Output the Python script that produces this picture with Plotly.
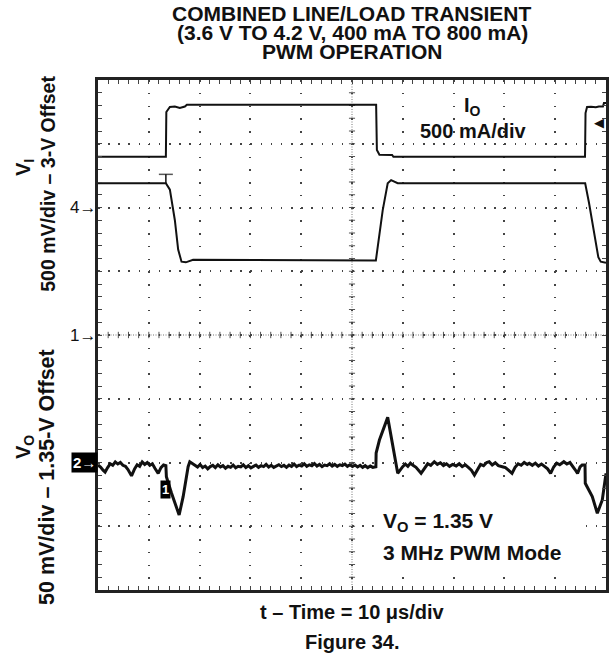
import plotly.graph_objects as go

# time base: 10 us/div, 10 divisions
# V_I trace (V), 500 mV/div, 3 V offset
t_vi = [0, 13.36, 14.15, 15.13, 15.78, 16.44, 17.29, 18.72, 54.7, 55.4, 56.05, 57.03,
        57.7, 59.0, 95.9, 96.66, 97.64, 98.49, 98.96, 100]
v_in = [4.19, 4.19, 4.14, 3.90, 3.67, 3.575, 3.57, 3.59, 3.585, 3.77, 3.98, 4.19,
        4.215, 4.19, 4.19, 4.035, 3.82, 3.61, 3.575, 3.567]

# I_O trace (mA), 500 mA/div
t_io = [0, 13.36, 13.45, 14.15, 15.13, 16.1, 17.1, 17.5, 54.75, 54.9, 55.4, 57.9,
        58.15, 95.87, 95.97, 96.27, 97.05, 98.0, 98.6, 99.4, 99.6, 100]
i_out = [398, 398, 749, 788, 792, 780, 792, 806, 806, 451, 414, 412,
         398, 398, 741, 788, 790, 786, 792, 792, 820, 820]

# V_O trace (V), 50 mV/div, 1.35 V offset
t_vo = [0.0, 0.5, 1.0, 1.4, 1.9, 2.4, 2.9, 3.4, 3.9, 4.4, 4.9, 5.4, 5.9, 6.6, 7.2, 7.7,
        8.2, 8.7, 9.2, 9.7, 10.2, 10.7, 11.2, 11.85, 12.4, 12.9, 13.36,
        13.46, 14.48, 15.97, 16.76, 17.74, 18.07, 19.06,
        19.6, 20.1, 20.6, 21.1, 21.6, 22.1, 22.6, 23.1, 23.6, 24.1, 24.6, 25.1, 25.6,
        26.1, 26.6, 27.1, 27.6, 28.1, 28.6, 29.1, 29.6, 30.1, 30.6, 31.1, 31.6, 32.1,
        32.6, 33.1, 33.6, 34.1, 34.6, 35.1, 35.6, 36.1, 36.6, 37.1, 37.6, 38.1, 38.6,
        39.1, 39.6, 40.1, 40.6, 41.1, 41.6, 42.1, 42.6, 43.1, 43.6, 44.1, 44.6, 45.1,
        45.6, 46.1, 46.6, 47.1, 47.6, 48.1, 48.6, 49.1, 49.6, 50.1, 50.6, 51.1, 51.6,
        52.1, 52.6, 53.1, 53.6, 54.1,
        54.70, 54.75, 55.4, 57.03, 58.0, 59.0, 59.98,
        60.5, 61.0, 61.5, 62.0, 62.6, 63.6, 64.3, 64.9, 65.5, 66.2, 66.8, 67.4, 68.0,
        68.6, 69.2, 69.8, 70.5, 71.1, 71.7, 72.3, 72.9, 73.5, 74.1, 74.7, 75.3, 75.9,
        76.5, 77.0, 77.6, 78.2, 78.8, 79.6, 80.2, 80.8, 81.5, 82.1, 82.7, 83.3, 83.9,
        84.5, 84.9, 85.5, 86.1, 86.7, 87.3, 87.9, 88.5, 89.1, 89.7, 90.3, 90.9, 91.7,
        92.3, 92.9, 93.5, 93.9, 94.4, 94.9, 95.3, 95.87,
        95.92, 97.3, 98.29, 99.27, 100]
v_out = [1.3480, 1.3465, 1.3440, 1.3425, 1.3460, 1.3490, 1.3478, 1.3505, 1.3488, 1.3500,
         1.3478, 1.3470, 1.3445, 1.3395, 1.3450, 1.3482, 1.3470, 1.3505, 1.3485, 1.3500,
         1.3478, 1.3490, 1.3455, 1.3415, 1.3460, 1.3480, 1.3475,
         1.3389, 1.3259, 1.3088, 1.3232, 1.3467, 1.3506, 1.3480,
         1.3465, 1.3485, 1.3460, 1.3472, 1.3450, 1.3468, 1.3478, 1.3460, 1.3482, 1.3465,
         1.3475, 1.3455, 1.3470, 1.3462, 1.3480, 1.3458, 1.3470, 1.3465, 1.3482, 1.3460,
         1.3475, 1.3458, 1.3470, 1.3480, 1.3462, 1.3475, 1.3468, 1.3485, 1.3465, 1.3478,
         1.3462, 1.3472, 1.3483, 1.3468, 1.3478, 1.3462, 1.3480, 1.3470, 1.3488, 1.3468,
         1.3480, 1.3472, 1.3490, 1.3470, 1.3482, 1.3475, 1.3492, 1.3472, 1.3485, 1.3468,
         1.3480, 1.3475, 1.3490, 1.3472, 1.3485, 1.3470, 1.3482, 1.3476, 1.3488, 1.3470,
         1.3482, 1.3468, 1.3480, 1.3465, 1.3478, 1.3462, 1.3475, 1.3460, 1.3472, 1.3462,
         1.3467, 1.3574, 1.3676, 1.3854, 1.3624, 1.3415, 1.3467,
         1.3488, 1.3470, 1.3495, 1.3478, 1.3462, 1.3415, 1.3460, 1.3490, 1.3478, 1.3506,
         1.3485, 1.3498, 1.3475, 1.3490, 1.3470, 1.3485, 1.3473, 1.3490, 1.3468, 1.3482,
         1.3462, 1.3440, 1.3402, 1.3450, 1.3485, 1.3475, 1.3500, 1.3506, 1.3480, 1.3498,
         1.3475, 1.3467, 1.3460, 1.3440, 1.3415, 1.3462, 1.3490, 1.3478, 1.3500, 1.3485,
         1.3494, 1.3478, 1.3495, 1.3472, 1.3488, 1.3470, 1.3450, 1.3415, 1.3465, 1.3495,
         1.3482, 1.3506, 1.3488, 1.3500, 1.3470, 1.3445, 1.3415, 1.3465, 1.3480, 1.3480,
         1.3337, 1.3232, 1.3102, 1.3206, 1.3415]

# trigger marker on V_I
trig_t = [13.36, 13.36]
trig_v = [4.19, 4.26]

FONT = "Liberation Sans, Arial, sans-serif"
INK = "#111111"
DOT_X = "1.5px,11.25px"   # dots every 1/5 div along vertical grid lines
DOT_Y = "1.5px,8.66px"    # dots every 1/5 div along horizontal grid lines

fig = go.Figure()
fig.add_trace(go.Scatter(x=t_io, y=i_out, yaxis="y3", mode="lines",
                         line=dict(color=INK, width=2)))
fig.add_trace(go.Scatter(x=t_vi, y=v_in, yaxis="y2", mode="lines",
                         line=dict(color=INK, width=2)))
fig.add_trace(go.Scatter(x=trig_t, y=trig_v, yaxis="y2", mode="lines+markers",
                         line=dict(color=INK, width=1.5),
                         marker=dict(symbol=["line-ew", "line-ew-open"], size=[0, 10],
                                     line=dict(color=INK, width=1.5))))
fig.add_trace(go.Scatter(x=t_vo, y=v_out, yaxis="y4", mode="lines",
                         line=dict(color=INK, width=3)))

edge = dict(showline=True, linecolor="#222", linewidth=2.5, mirror="ticks",
            ticks="inside", ticklen=4, tickwidth=1, tickcolor="#444",
            showticklabels=False, zeroline=False, fixedrange=True)

fig.update_layout(
    width=610, height=657,
    margin=dict(l=98, r=4, t=80, b=67, autoexpand=False),
    plot_bgcolor="white", paper_bgcolor="white",
    showlegend=False,
    font=dict(family=FONT, color=INK),
    xaxis=dict(range=[0, 100], dtick=10, tick0=0, showgrid=True, gridcolor="#444",
               gridwidth=1.5, griddash=DOT_X,
               minor=dict(dtick=2, ticks="inside", ticklen=4, tickcolor="#444", showgrid=False),
               **edge),
    yaxis=dict(range=[0, 8], dtick=1, tick0=0, showgrid=True, gridcolor="#444",
               gridwidth=1.5, griddash=DOT_Y,
               minor=dict(dtick=0.2, ticks="inside", ticklen=4, tickcolor="#444", showgrid=False),
               **edge),
    yaxis2=dict(overlaying="y", range=[1, 5], visible=False, fixedrange=True),
    yaxis3=dict(overlaying="y", range=[-3000, 1000], visible=False, fixedrange=True),
    yaxis4=dict(overlaying="y", range=[1.25, 1.65], visible=False, fixedrange=True),
)

# centre cross-hair: fine grey dotted lines with small ticks every 1/5 div
fig.add_shape(type="line", xref="paper", yref="y", x0=0, x1=1, y0=4, y1=4,
              line=dict(color="#777", width=1, dash="1px,1.5px"), layer="below")
fig.add_shape(type="line", xref="x", yref="paper", x0=50, x1=50, y0=0, y1=1,
              line=dict(color="#777", width=1, dash="1px,1.5px"), layer="below")
for k in range(1, 50):
    fig.add_shape(type="line", xref="x", yref="y", x0=2 * k, x1=2 * k, y0=3.95, y1=4.05,
                  line=dict(color="#555", width=1), layer="below")
for k in range(1, 40):
    fig.add_shape(type="line", xref="x", yref="y", x0=49.4, x1=50.6, y0=0.2 * k, y1=0.2 * k,
                  line=dict(color="#555", width=1), layer="below")

# white box behind the V_O note
fig.add_shape(type="rect", xref="paper", yref="paper", x0=0.543, x1=0.943, y0=0.026, y1=0.206,
              fillcolor="white", line=dict(width=0), layer="above")


def note(text, x, y, size=18, xref="paper", yref="paper", color=INK, xanchor="center", **kw):
    fig.add_annotation(text=text, x=x, y=y, xref=xref, yref=yref, showarrow=False,
                       xanchor=xanchor, yanchor="middle",
                       font=dict(family=FONT, size=size, color=color), **kw)


note("<b>COMBINED LINE/LOAD TRANSIENT</b>", 0.5, 1.130, size=21)
note("<b>(3.6 V TO 4.2 V, 400 mA TO 800 mA)</b>", 0.5, 1.093, size=21)
note("<b>PWM OPERATION</b>", 0.5, 1.056, size=21)

note("<b>t – Time = 10 μs/div</b>", 0.5, -0.043, size=20)
note("<b>Figure 34.</b>", 0.5, -0.102, size=20)

note("<b>V<sub>I</sub></b>", -0.146, 0.829, size=20, textangle=-90)
note("<b>500 mV/div – 3-V Offset</b>", -0.100, 0.797, size=19.5, textangle=-90)
note("<b>V<sub>O</sub></b>", -0.146, 0.280, size=20, textangle=-90)
note("<b>50 mV/div – 1.35-V Offset</b>", -0.100, 0.222, size=21.5, textangle=-90)

note("<b>I<sub>O</sub></b>", 0.738, 0.949, size=20)
note("<b>500 mA/div</b>", 0.738, 0.900, size=20)

note("<b>V<sub>O</sub> = 1.35 V</b>", 0.557, 0.134, size=21, xanchor="left")
note("<b>3 MHz PWM Mode</b>", 0.557, 0.074, size=21, xanchor="left")

# channel reference markers
note("4→", 0, 6, size=17, yref="y", xanchor="right")
note("1→", 0, 4, size=17, yref="y", xanchor="right")
note("<b>2→</b>", 0, 2, size=15, yref="y", xanchor="right", color="white",
     bgcolor="black", borderpad=1)
note("<b>1</b>", 13.36, 1.576, size=13, xref="x", yref="y", color="white",
     bgcolor="black", borderpad=1)
note("◀", 1, 7.34, size=13, yref="y", xanchor="right")

fig.write_html("out.html", config={"displayModeBar": False},
               post_script="document.body.style.margin='0px';"
                           "document.body.style.overflow='hidden';")
